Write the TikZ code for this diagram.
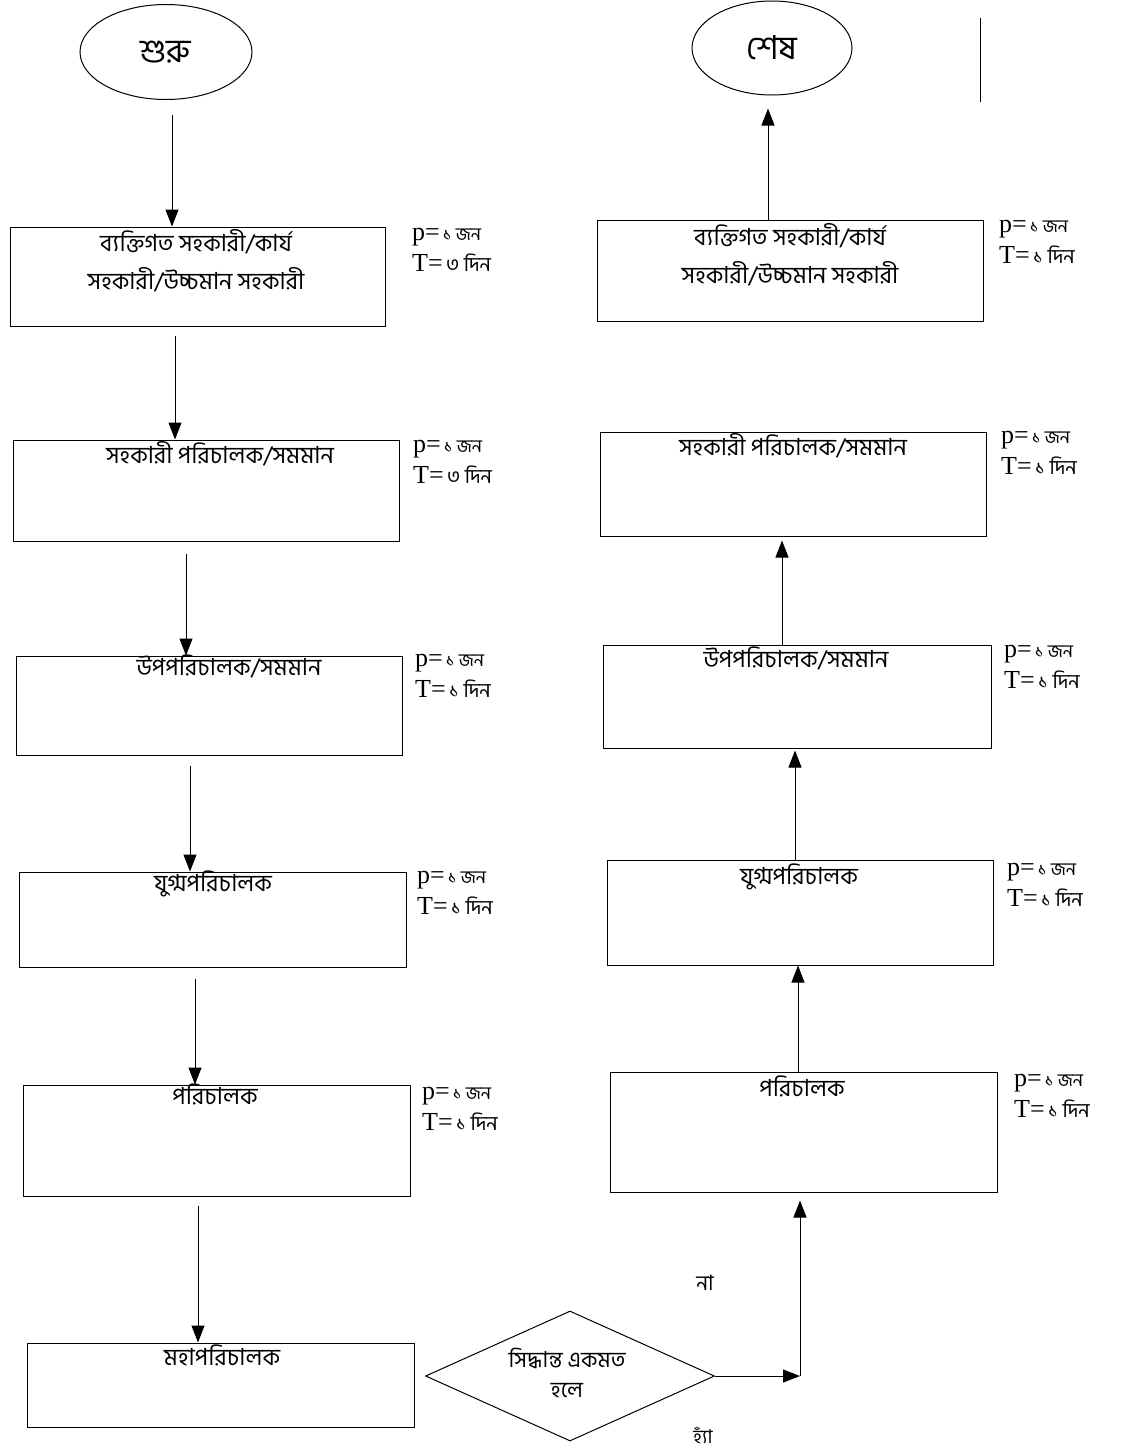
\documentclass[tikz,border=0pt]{standalone}
\usepackage{fontspec}
\setmainfont{Liberation Serif}
\newfontfamily\bn[Script=Bengali]{Hind Siliguri}
\usetikzlibrary{shapes.geometric,arrows.meta}
\tikzset{
 box/.style={draw, line width=1pt, inner sep=0pt},
 btxt/.style={font=\bn\fontsize{23.5}{38}\selectfont, align=center, anchor=north, inner sep=0pt},
 lab/.style={font=\fontsize{26}{31}\selectfont, align=left, anchor=north west, inner sep=0pt},
 arr/.style={line width=1pt, -{Triangle[width=13pt,length=17pt]}},
 oval/.style={ellipse, draw, line width=1pt, inner sep=0pt},
}
\newcommand\pTlab[2]{p={\bn\fontsize{18}{18}\selectfont\,#1 জন}\\T={\bn\fontsize{20}{20}\selectfont\,#2 দিন}}
\begin{document}
\begin{tikzpicture}[x=1pt,y=-1pt]
\useasboundingbox (0,0) rectangle (1122,1456);
\fill[white] (0,0) rectangle (1122,1456);
% ---- left column
\node[oval, minimum width=172pt, minimum height=95pt, font=\bn\fontsize{33}{36}\selectfont] (start) at (166,52) {শুরু};
\node[box, minimum width=375pt, minimum height=99pt] (L1) at (197.5,276.5) {};
\node[btxt] (L1t) at (196,229) {ব্যক্তিগত সহকারী/কার্য\\সহকারী/উচ্চমান সহকারী};
\node[lab] (L1l) at (412,228) {\pTlab{১}{৩}};
\node[box, minimum width=386pt, minimum height=101pt] (L2) at (206,490.5) {};
\node[btxt] (L2t) at (220,441) {সহকারী পরিচালক/সমমান};
\node[lab] (L2l) at (413,440) {\pTlab{১}{৩}};
\node[box, minimum width=386pt, minimum height=99pt] (L3) at (209,705.5) {};
\node[btxt] (L3t) at (229,655) {উপপরিচালক/সমমান};
\node[lab] (L3l) at (415,654) {\pTlab{১}{১}};
\node[box, minimum width=387pt, minimum height=95pt] (L4) at (212.5,919.5) {};
\node[btxt] (L4t) at (213,871) {যুগ্মপরিচালক};
\node[lab] (L4l) at (417,871) {\pTlab{১}{১}};
\node[box, minimum width=387pt, minimum height=111pt] (L5) at (216.5,1140.5) {};
\node[btxt] (L5t) at (215,1084) {পরিচালক};
\node[lab] (L5l) at (422,1087) {\pTlab{১}{১}};
\node[box, minimum width=387pt, minimum height=84pt] (L6) at (220.5,1385) {};
\node[btxt] (L6t) at (222,1345) {মহাপরিচালক};
\draw[arr] ([shift={(6,15)}]start.south) -- ([xshift=-25.5]L1.north);
\draw[arr] ([shift={(-22.5,9)}]L1.south) -- ([xshift=-31]L2.north);
\draw[arr] ([shift={(-20,12)}]L2.south) -- ([xshift=-23]L3.north);
\draw[arr] ([shift={(-19,10)}]L3.south) -- ([xshift=-22.5]L4.north);
\draw[arr] ([shift={(-17.5,11)}]L4.south) -- ([xshift=-21.5]L5.north);
\draw[arr] ([shift={(-18.5,9)}]L5.south) -- ([xshift=-22.5]L6.north);
% ---- decision
\node[diamond, draw, line width=1pt, minimum width=289pt, minimum height=130pt, inner sep=0pt] (dec) at (570,1376) {};
\node[font=\bn\fontsize{22}{30}\selectfont, align=center, inner sep=0pt] (dect) at (567,1373) {সিদ্ধান্ত একমত\\হলে};
\coordinate (corner) at (800,1376);
\node[font=\bn\fontsize{21}{22}\selectfont, inner sep=0pt] (no) at (705,1283) {না};
\node[font=\bn\fontsize{19}{22}\selectfont, inner sep=0pt, anchor=south] (yes) at (703,1444) {হ্যাঁ};
% ---- right column
\node[oval, minimum width=160pt, minimum height=94pt, font=\bn\fontsize{33}{36}\selectfont] (end) at (772,48) {শেষ};
\node[box, minimum width=386pt, minimum height=101pt] (R1) at (790,270.5) {};
\node[btxt] (R1t) at (790,223) {ব্যক্তিগত সহকারী/কার্য\\সহকারী/উচ্চমান সহকারী};
\node[lab] (R1l) at (999,220) {\pTlab{১}{১}};
\node[box, minimum width=386pt, minimum height=104pt] (R2) at (793,484) {};
\node[btxt] (R2t) at (793,433) {সহকারী পরিচালক/সমমান};
\node[lab] (R2l) at (1001,431) {\pTlab{১}{১}};
\node[box, minimum width=388pt, minimum height=103pt] (R3) at (797,696.5) {};
\node[btxt] (R3t) at (796,647) {উপপরিচালক/সমমান};
\node[lab] (R3l) at (1004,645) {\pTlab{১}{১}};
\node[box, minimum width=386pt, minimum height=105pt] (R4) at (800,912.5) {};
\node[btxt] (R4t) at (799,864) {যুগ্মপরিচালক};
\node[lab] (R4l) at (1007,863) {\pTlab{১}{১}};
\node[box, minimum width=387pt, minimum height=120pt] (R5) at (803.5,1132) {};
\node[btxt] (R5t) at (802,1076) {পরিচালক};
\node[lab] (R5l) at (1014,1074) {\pTlab{১}{১}};
\draw[arr] ([xshift=-22]R1.north) -- ([shift={(-4,13)}]end.south);
\draw[arr] ([xshift=-15]R3.north) -- ([shift={(-11,4)}]R2.south);
\draw[arr] ([xshift=-5]R4.north) -- ([shift={(-2,2)}]R3.south);
\draw[arr] ([xshift=-5.5]R5.north) -- ([shift={(-2,0)}]R4.south);
\draw[arr] (dec.east) -- (corner);
\draw[arr] (corner) -- ([shift={(-3.5,8)}]R5.south);
% stray mark
\draw[line width=1pt] (980,18) -- (980,102);
\end{tikzpicture}
\end{document}
